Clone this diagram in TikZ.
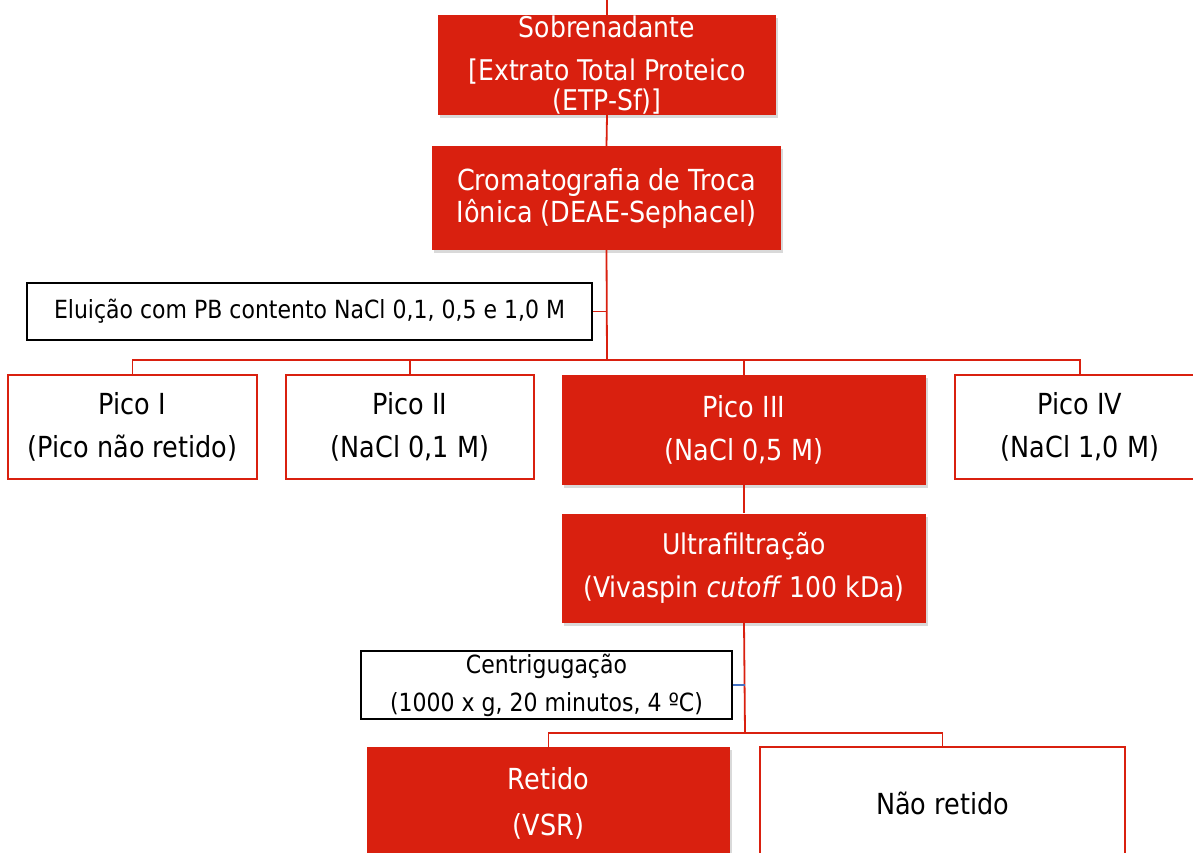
\documentclass[tikz,border=0pt]{standalone}
\usepackage{fontspec}
\setmainfont{DejaVu Sans}[FakeStretch=0.88]
\usetikzlibrary{shadows}
\definecolor{rouge}{HTML}{D9200F}
\definecolor{bleu}{HTML}{4472C4}

\begin{document}
\begin{tikzpicture}[x=1pt,y=-1pt,
  plein/.style={fill=rouge,text=white,align=center,inner sep=0pt,
    drop shadow={shadow xshift=2pt,shadow yshift=-3pt,opacity=0.3}},
  vide/.style={draw=rouge,line width=1.8pt,fill=white,text=black,align=center,inner sep=0pt},
  etiq/.style={draw=black,line width=1.5pt,fill=white,align=center,inner sep=0pt},
  lien/.style={draw=rouge,line width=1.8pt}]

\clip (0,0) rectangle (1193,853);

% Sobrenadante
\coordinate (haut) at (607,0);
\node[plein,minimum width=338pt,minimum height=100pt,font=\fontsize{28.5}{30}\selectfont]
  (sob) at (607,65) {Sobrenadante\\[13pt][Extrato Total Proteico\\(ETP-Sf)]};

% Cromatografia
\node[plein,minimum width=349pt,minimum height=104pt,font=\fontsize{29}{32}\selectfont]
  (crom) at (606.5,198) {Cromatografia de Troca\\I\^onica (DEAE-Sephacel)};

\node[etiq,minimum width=565pt,minimum height=57pt,font=\fontsize{25}{26}\selectfont]
  (elu) at (309.5,311.5) {Elui\c{c}\~ao com PB contento NaCl 0,1, 0,5 e 1,0 M};

% Picos
\node[vide,minimum width=249pt,minimum height=104pt,font=\fontsize{29}{43}\selectfont]
  (p1) at (132.5,427) {Pico I\\(Pico n\~ao retido)};
\node[vide,minimum width=248pt,minimum height=104pt,font=\fontsize{29}{43}\selectfont]
  (p2) at (410,427) {Pico II\\(NaCl 0,1 M)};
\node[plein,minimum width=364pt,minimum height=110pt,font=\fontsize{29}{43}\selectfont]
  (p3) at (744,430) {Pico III\\(NaCl 0,5 M)};
\node[vide,minimum width=250pt,minimum height=104pt,font=\fontsize{29}{43}\selectfont]
  (p4) at (1080,427) {Pico IV\\(NaCl 1,0 M)};

% Ultrafiltracao
\node[plein,minimum width=364pt,minimum height=109pt,font=\fontsize{28.5}{43}\selectfont]
  (ultra) at (744,568) {Ultrafiltra\c{c}\~ao\\(Vivaspin \textit{cutoff} 100 kDa)};

\node[etiq,minimum width=371pt,minimum height=68pt,font=\fontsize{25}{38}\selectfont]
  (cent) at (546.5,685) {Centriguga\c{c}\~ao\\(1000 x g, 20 minutos, 4 ºC)};

% Retido
\node[plein,minimum width=363pt,minimum height=112pt,font=\fontsize{29}{46}\selectfont]
  (ret) at (548.5,803) {Retido\\(VSR)};
\node[vide,minimum width=365pt,minimum height=112pt,font=\fontsize{29}{46}\selectfont]
  (nret) at (942.5,803) {N\~ao retido};

% liens
\coordinate (barre1) at (607,360);
\coordinate (barre2) at (745,733);

\draw[lien] (haut) -- (sob.north);
\draw[lien] (sob.south) -- (crom.north);
\draw[lien] (crom.south) -- (barre1);
\draw[lien] (elu.east) -- (elu.east -| barre1);
\draw[lien] (p1.north) -- (p1.north |- barre1) -| (p4.north);
\draw[lien] (p2.north) -- (p2.north |- barre1);
\draw[lien] (p3.north) -- (p3.north |- barre1);

\draw[lien] (p3.south) -- (ultra.north);
\draw[lien] (ultra.south) -- (barre2);
\draw[draw=bleu,line width=1.8pt] (cent.east) -- (cent.east -| barre2);
\draw[lien] (ret.north) -- (ret.north |- barre2) -| (nret.north);

\end{tikzpicture}
\end{document}
